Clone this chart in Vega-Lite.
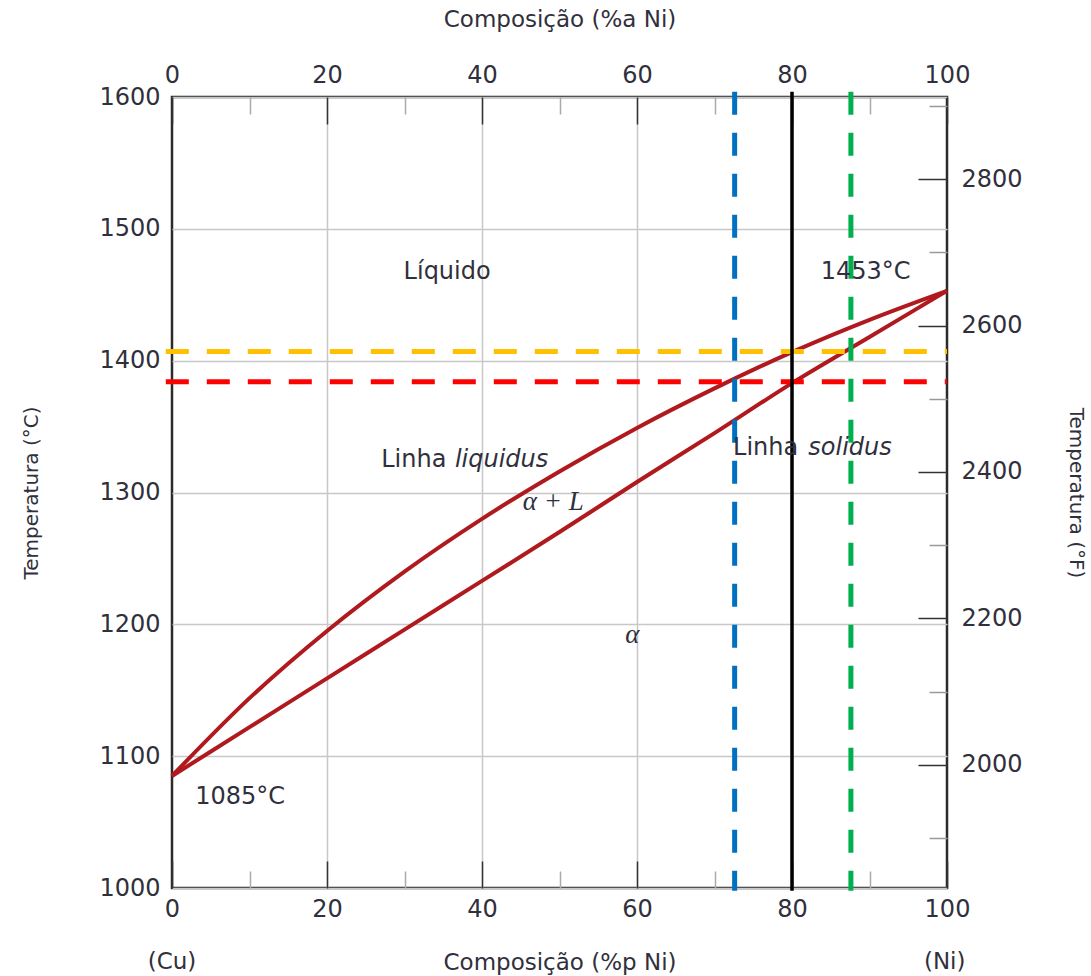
{
  "$schema": "https://vega.github.io/schema/vega-lite/v6.json",
  "width": 775,
  "height": 791,
  "autosize": "none",
  "padding": {"left": 172, "top": 97, "right": 144, "bottom": 88},
  "background": "white",
  "config": {
    "view": {"stroke": "#2b2b2b", "strokeWidth": 2.5},
    "axis": {
      "domain": false,
      "labelFont": "DejaVu Sans",
      "labelFontSize": 24,
      "labelColor": "#30303c",
      "titleFont": "DejaVu Sans",
      "titleFontWeight": "normal",
      "titleColor": "#30303c",
      "gridColor": "#c8c8c8",
      "gridWidth": 1.5
    },
    "text": {"font": "DejaVu Sans", "fontSize": 24, "color": "#30303c"}
  },
  "layer": [
    {
      "layer": [
        {
          "data": {"values": [
            {"curve": "liquidus", "wt": 0, "T": 1085},
            {"curve": "liquidus", "wt": 10, "T": 1144},
            {"curve": "liquidus", "wt": 20, "T": 1195},
            {"curve": "liquidus", "wt": 30, "T": 1240},
            {"curve": "liquidus", "wt": 40, "T": 1280},
            {"curve": "liquidus", "wt": 50, "T": 1316},
            {"curve": "liquidus", "wt": 60, "T": 1349},
            {"curve": "liquidus", "wt": 70, "T": 1379},
            {"curve": "liquidus", "wt": 80, "T": 1406.5},
            {"curve": "liquidus", "wt": 90, "T": 1431},
            {"curve": "liquidus", "wt": 100, "T": 1453},
            {"curve": "solidus", "wt": 0, "T": 1085},
            {"curve": "solidus", "wt": 10, "T": 1122},
            {"curve": "solidus", "wt": 20, "T": 1159},
            {"curve": "solidus", "wt": 30, "T": 1196},
            {"curve": "solidus", "wt": 40, "T": 1233},
            {"curve": "solidus", "wt": 50, "T": 1270},
            {"curve": "solidus", "wt": 60, "T": 1308},
            {"curve": "solidus", "wt": 70, "T": 1345},
            {"curve": "solidus", "wt": 80, "T": 1383},
            {"curve": "solidus", "wt": 90, "T": 1418},
            {"curve": "solidus", "wt": 100, "T": 1453}
          ]},
          "mark": {"type": "line", "color": "#b01a1e", "strokeWidth": 4, "interpolate": "monotone"},
          "encoding": {
            "x": {
              "field": "wt", "type": "quantitative",
              "scale": {"domain": [0, 100], "nice": false, "zero": false},
              "axis": {
                "orient": "bottom",
                "title": "Composição (%p Ni)",
                "titleFontSize": 23,
                "titlePadding": 20,
                "values": [0, 10, 20, 30, 40, 50, 60, 70, 80, 90, 100],
                "labelExpr": "datum.value % 20 === 0 ? datum.label : ''",
                "labelPadding": 36,
                "labelFlush": false,
                "labelOverlap": false,
                "tickSize": {"condition": {"test": "datum.value % 20 === 0", "value": -27}, "value": -17},
                "tickColor": {"condition": {"test": "datum.value % 20 === 0", "value": "#333333"}, "value": "#aaaaaa"},
                "tickWidth": 1.5,
                "grid": true,
                "gridOpacity": {"condition": {"test": "datum.value % 20 === 0 && datum.value > 0 && datum.value < 100", "value": 1}, "value": 0}
              }
            },
            "y": {
              "field": "T", "type": "quantitative",
              "scale": {"domain": [1000, 1600], "nice": false, "zero": false},
              "axis": {
                "orient": "left",
                "title": "Temperatura (°C)",
                "titleFontSize": 20,
                "titlePadding": 57,
                "values": [1000, 1100, 1200, 1300, 1400, 1500, 1600],
                "format": "d",
                "ticks": false,
                "labelPadding": 12,
                "labelFlush": false,
                "labelOverlap": false,
                "grid": true
              }
            },
            "detail": {"field": "curve", "type": "nominal"}
          }
        },
        {
          "data": {"values": [{"T": 1407}]},
          "mark": {"type": "rule", "color": "#ffc000", "strokeWidth": 5, "strokeDash": [23, 18]},
          "encoding": {
            "y": {"field": "T", "type": "quantitative"},
            "x": {"datum": -0.8, "type": "quantitative"},
            "x2": {"datum": 100}
          }
        },
        {
          "data": {"values": [{"T": 1384}]},
          "mark": {"type": "rule", "color": "#ff0000", "strokeWidth": 5, "strokeDash": [23, 18]},
          "encoding": {
            "y": {"field": "T", "type": "quantitative"},
            "x": {"datum": -0.8, "type": "quantitative"},
            "x2": {"datum": 100}
          }
        },
        {
          "data": {"values": [{"wt": 72.6}]},
          "mark": {"type": "rule", "color": "#0070c0", "strokeWidth": 5, "strokeDash": [23, 18]},
          "encoding": {
            "x": {"field": "wt", "type": "quantitative"},
            "y": {"datum": 1604, "type": "quantitative"},
            "y2": {"datum": 998}
          }
        },
        {
          "data": {"values": [{"wt": 87.6}]},
          "mark": {"type": "rule", "color": "#00b050", "strokeWidth": 5, "strokeDash": [23, 18]},
          "encoding": {
            "x": {"field": "wt", "type": "quantitative"},
            "y": {"datum": 1604, "type": "quantitative"},
            "y2": {"datum": 998}
          }
        },
        {
          "data": {"values": [{"wt": 80}]},
          "mark": {"type": "rule", "color": "#000000", "strokeWidth": 3.5},
          "encoding": {
            "x": {"field": "wt", "type": "quantitative"},
            "y": {"datum": 1604, "type": "quantitative"},
            "y2": {"datum": 998}
          }
        },
        {
          "data": {"values": [
            {"label": "Líquido", "wt": 35.5, "T": 1467},
            {"label": "1453°C", "wt": 89.5, "T": 1467},
            {"label": "1085°C", "wt": 8.8, "T": 1069}
          ]},
          "mark": {"type": "text", "align": "center", "baseline": "middle"},
          "encoding": {
            "x": {"field": "wt", "type": "quantitative"},
            "y": {"field": "T", "type": "quantitative"},
            "text": {"field": "label"}
          }
        },
        {
          "data": {"values": [
            {"label": "Linha", "wt": 35.4, "T": 1325},
            {"label": "Linha", "wt": 80.8, "T": 1334}
          ]},
          "mark": {"type": "text", "align": "right", "baseline": "middle"},
          "encoding": {
            "x": {"field": "wt", "type": "quantitative"},
            "y": {"field": "T", "type": "quantitative"},
            "text": {"field": "label"}
          }
        },
        {
          "data": {"values": [
            {"label": "liquidus", "wt": 36.5, "T": 1325},
            {"label": "solidus", "wt": 82.1, "T": 1334}
          ]},
          "mark": {"type": "text", "align": "left", "baseline": "middle", "fontStyle": "italic"},
          "encoding": {
            "x": {"field": "wt", "type": "quantitative"},
            "y": {"field": "T", "type": "quantitative"},
            "text": {"field": "label"}
          }
        },
        {
          "data": {"values": [
            {"label": "α + L", "wt": 49.2, "T": 1293},
            {"label": "α", "wt": 59.4, "T": 1192}
          ]},
          "mark": {"type": "text", "align": "center", "baseline": "middle", "font": "Liberation Serif", "fontStyle": "italic", "fontSize": 27},
          "encoding": {
            "x": {"field": "wt", "type": "quantitative"},
            "y": {"field": "T", "type": "quantitative"},
            "text": {"field": "label"}
          }
        },
        {
          "data": {"values": [
            {"label": "(Cu)", "wt": 0, "T": 944},
            {"label": "(Ni)", "wt": 99.7, "T": 944}
          ]},
          "mark": {"type": "text", "align": "center", "baseline": "middle", "fontSize": 23},
          "encoding": {
            "x": {"field": "wt", "type": "quantitative"},
            "y": {"field": "T", "type": "quantitative"},
            "text": {"field": "label"}
          }
        }
      ]
    },
    {
      "data": {"values": [{"a": 0, "F": 1832}, {"a": 100, "F": 2912}]},
      "mark": {"type": "point", "opacity": 0},
      "encoding": {
        "x": {
          "field": "a", "type": "quantitative",
          "scale": {"domain": [0, 100], "nice": false, "zero": false},
          "axis": {
            "orient": "top",
            "title": "Composição (%a Ni)",
            "titleFontSize": 23,
            "titlePadding": 22,
            "values": [0, 10, 20, 30, 40, 50, 60, 70, 80, 90, 100],
            "labelExpr": "datum.value % 20 === 0 ? datum.label : ''",
            "labelPadding": 37,
            "labelFlush": false,
            "labelOverlap": false,
            "tickSize": {"condition": {"test": "datum.value % 20 === 0", "value": -27}, "value": -17},
            "tickColor": {"condition": {"test": "datum.value % 20 === 0", "value": "#333333"}, "value": "#aaaaaa"},
            "tickWidth": 1.5,
            "grid": false
          }
        },
        "y": {
          "field": "F", "type": "quantitative",
          "scale": {"domain": [1832, 2912], "nice": false, "zero": false},
          "axis": {
            "orient": "right",
            "title": "Temperatura (°F)",
            "titleFontSize": 20,
            "titlePadding": 43,
            "values": [1900, 2000, 2100, 2200, 2300, 2400, 2500, 2600, 2700, 2800, 2900],
            "labelExpr": "datum.value % 200 === 0 ? datum.label : ''",
            "format": "d",
            "labelPadding": 43,
            "labelFlush": false,
            "labelOverlap": false,
            "tickSize": {"condition": {"test": "datum.value % 200 === 0", "value": -29}, "value": -18},
            "tickColor": {"condition": {"test": "datum.value % 200 === 0", "value": "#333333"}, "value": "#999999"},
            "tickWidth": 1.5,
            "grid": false
          }
        }
      }
    }
  ],
  "resolve": {"scale": {"x": "independent", "y": "independent"}}
}
